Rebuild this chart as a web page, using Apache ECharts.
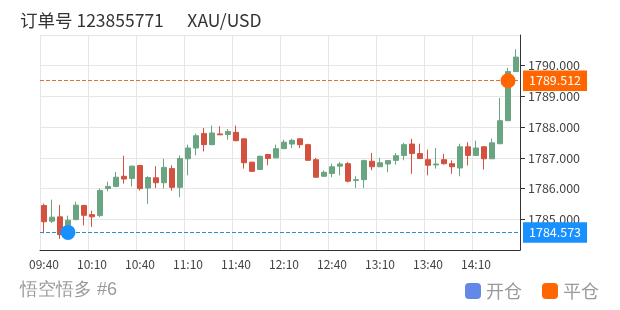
<!DOCTYPE html>
<html>
<head>
<meta charset="utf-8">
<script src="https://cdn.jsdelivr.net/npm/echarts@6/dist/echarts.min.js"></script>
<style>html,body{margin:0;padding:0;background:#fff;}#c{width:620px;height:310px;}</style>
</head>
<body>
<div id="c"></div>
<script>
var categories = ['09:40','09:45','09:50','09:55','10:00','10:05','10:10','10:15','10:20','10:25',
'10:30','10:35','10:40','10:45','10:50','10:55','11:00','11:05','11:10','11:15',
'11:20','11:25','11:30','11:35','11:40','11:45','11:50','11:55','12:00','12:05',
'12:10','12:15','12:20','12:25','12:30','12:35','12:40','12:45','12:50','12:55',
'13:00','13:05','13:10','13:15','13:20','13:25','13:30','13:35','13:40','13:45',
'13:50','13:55','14:00','14:05','14:10','14:15','14:20','14:25','14:30','14:35'];
var opens = [1785.45,1784.94,1785.08,1784.80,1784.99,1785.45,1785.15,1785.12,1786.00,1786.07,
1786.40,1786.33,1786.75,1786.02,1786.35,1786.19,1786.65,1786.04,1786.97,1787.32,
1787.79,1787.43,1787.78,1787.76,1787.83,1787.62,1786.86,1786.62,1787.11,1787.00,
1787.30,1787.45,1787.62,1787.43,1786.94,1786.40,1786.49,1786.73,1786.81,1786.26,
1786.29,1786.89,1786.71,1786.80,1786.92,1787.08,1787.45,1787.14,1786.94,1786.77,
1786.94,1786.81,1786.67,1787.36,1787.08,1787.36,1786.97,1787.46,1788.21,1789.81];
var closes = [1784.92,1785.07,1784.50,1784.97,1785.46,1785.13,1785.08,1785.94,1786.07,1786.37,
1786.31,1786.73,1786.00,1786.36,1786.19,1786.69,1786.04,1786.98,1787.32,1787.72,
1787.43,1787.81,1787.75,1787.86,1787.56,1786.84,1786.56,1787.05,1786.98,1787.30,
1787.51,1787.57,1787.43,1786.92,1786.37,1786.53,1786.71,1786.80,1786.24,1786.29,
1786.91,1786.71,1786.84,1786.91,1787.07,1787.43,1787.14,1786.98,1786.76,1786.80,
1786.81,1786.71,1787.36,1787.08,1787.32,1786.97,1787.49,1788.21,1789.81,1790.28];
var lows = [1784.54,1784.88,1784.36,1784.55,1784.97,1784.80,1784.75,1785.07,1785.91,1786.04,
1786.16,1786.07,1785.94,1785.50,1786.02,1786.00,1785.93,1785.72,1786.43,1787.08,
1787.21,1787.41,1787.75,1787.59,1787.54,1786.65,1786.54,1786.61,1786.76,1786.99,
1787.30,1787.32,1787.32,1786.92,1786.37,1786.38,1786.37,1786.43,1786.20,1786.02,
1786.02,1786.60,1786.70,1786.53,1786.78,1786.92,1786.48,1786.97,1786.43,1786.65,
1786.78,1786.48,1786.40,1786.75,1787.08,1786.62,1786.97,1787.46,1788.21,1789.81];
var highs = [1785.51,1785.64,1785.47,1785.12,1785.57,1785.47,1785.28,1786.00,1786.22,1786.54,
1787.07,1786.75,1786.77,1786.40,1786.73,1786.97,1786.76,1787.08,1787.43,1787.79,
1787.97,1788.05,1788.03,1787.94,1788.05,1787.62,1786.87,1787.08,1787.13,1787.43,
1787.59,1787.62,1787.64,1787.46,1787.00,1786.59,1786.81,1786.86,1786.86,1786.40,
1786.94,1787.16,1787.00,1786.92,1787.16,1787.49,1787.62,1787.46,1787.27,1787.32,
1787.13,1786.92,1787.46,1787.51,1787.56,1787.38,1787.63,1788.95,1789.93,1790.54];
var openIndex = 3, openPrice = 1784.573;
var closeIndex = 58, closePrice = 1789.512;
var yTicks = { min: 1784, max: 1791, interval: 1 };

var ohlc = categories.map(function (c, i) { return [opens[i], closes[i], lows[i], highs[i]]; });

var FONT = '"Noto Sans CJK SC", "Noto Sans", sans-serif';
function markLineOf(price, lineColor, boxColor) {
  return {
    silent: true, symbol: 'none', precision: 3,
    lineStyle: { color: lineColor, type: 'dashed', width: 1, opacity: 1 },
    label: { position: 'end', distance: 3, color: '#fff', backgroundColor: boxColor,
      padding: [4, 6, 4, 6], fontSize: 12.5,
      formatter: function () { return price.toFixed(3); } },
    data: [{ yAxis: price, lineStyle: { color: lineColor, type: 'dashed', width: 1 } }]
  };
}
var chart = echarts.init(document.getElementById('c'), null, { renderer: 'canvas' });
chart.setOption({
  animation: false,
  textStyle: { fontFamily: FONT },
  title: {
    text: '订单号 123855771      XAU/USD',
    left: 15, top: 7,
    textStyle: { fontSize: 17.5, fontWeight: 'normal', color: '#333', fontFamily: FONT }
  },
  graphic: [{
    type: 'text', left: 20, top: 281,
    style: { text: '悟空悟多 #6', fontSize: 18, fill: '#999', font: '18px ' + FONT }
  }],
  legend: {
    data: [
      { name: '开仓', itemStyle: { color: '#6488e6', opacity: 1 } },
      { name: '平仓', itemStyle: { color: '#ff6600', opacity: 1 } }
    ],
    right: 16, top: 277, icon: 'roundRect', itemWidth: 16, itemHeight: 16, itemGap: 20,
    textStyle: { fontSize: 18, color: '#999', fontFamily: FONT }
  },
  grid: { left: 40, right: 100, top: 35, bottom: 60 },
  xAxis: {
    type: 'category', data: categories, boundaryGap: true,
    axisLine: { lineStyle: { color: '#333' } },
    axisTick: { alignWithLabel: true, interval: 5, lineStyle: { color: '#333' } },
    axisLabel: { interval: 5, color: '#444', fontSize: 12, margin: 8 },
    splitLine: { show: true, interval: 5, lineStyle: { color: '#e6e6e6' } }
  },
  yAxis: {
    type: 'value', position: 'right', scale: true,
    min: yTicks.min, max: yTicks.max, interval: yTicks.interval,
    axisLine: { show: true, lineStyle: { color: '#333' } },
    axisTick: { show: true, lineStyle: { color: '#333' } },
    axisLabel: { color: '#444', fontSize: 12.5, showMinLabel: false, showMaxLabel: false,
      formatter: function (v) { return v.toFixed(3); } },
    splitLine: { show: true, lineStyle: { color: '#e6e6e6' } }
  },
  series: [
    {
      type: 'candlestick', name: 'K', data: ohlc, barWidth: '65%',
      itemStyle: { color: '#6aa582', color0: '#d5513f', borderColor: '#6aa582', borderColor0: '#d5513f', borderWidth: 1 }
    },
    {
      type: 'scatter', name: '开仓', symbolSize: 15, z: 5,
      itemStyle: { color: '#6488e6', opacity: 1 },
      data: [{ value: [openIndex, openPrice], itemStyle: { color: '#1890ff', opacity: 1 } }],
      markLine: markLineOf(openPrice, '#2a8fc9', '#1890ff')
    },
    {
      type: 'scatter', name: '平仓', symbolSize: 15, z: 5,
      itemStyle: { color: '#ff6600', opacity: 1 },
      data: [{ value: [closeIndex, closePrice], itemStyle: { color: '#ff6600', opacity: 1 } }],
      markLine: markLineOf(closePrice, '#d9733a', '#ff6600')
    }
  ]
});
</script>
</body>
</html>
